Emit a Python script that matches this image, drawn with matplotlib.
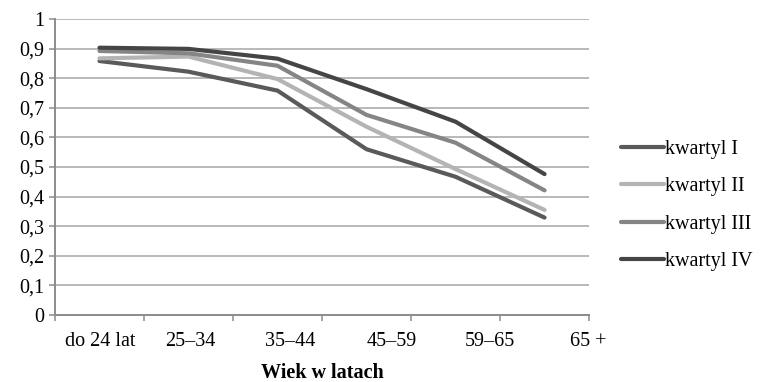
import matplotlib
matplotlib.use("Agg")
import matplotlib.pyplot as plt
import numpy as np

plt.rcParams["font.family"] = ["Liberation Serif", "DejaVu Serif"]

FONT_SIZE = 14.5

CATEGORIES = ["do 24 lat", "25–34", "35–44", "45–59", "59–65", "65 +"]
SERIES_NAMES = ["kwartyl I", "kwartyl II", "kwartyl III", "kwartyl IV"]
KWARTYL_I = [0.858, 0.822, 0.758, 0.560, 0.467, 0.329]
KWARTYL_II = [0.867, 0.873, 0.797, 0.636, 0.493, 0.355]
KWARTYL_III = [0.892, 0.884, 0.842, 0.676, 0.582, 0.421]
KWARTYL_IV = [0.903, 0.899, 0.866, 0.763, 0.653, 0.476]
Y_TICKS = [0, 0.1, 0.2, 0.3, 0.4, 0.5, 0.6, 0.7, 0.8, 0.9, 1]
Y_TICK_LABELS = ["0", "0,1", "0,2", "0,3", "0,4", "0,5", "0,6", "0,7", "0,8", "0,9", "1"]

# label positions as they sit in the original (not quite centred in the bins)
LABEL_POS = [0.51, 1.52, 2.64, 3.78, 4.89, 5.99]
COLORS = ["#5a5a5a", "#b4b4b4", "#858585", "#454545"]


def main() -> None:
    fig = plt.figure(figsize=(7.67, 3.82), dpi=100)
    ax = fig.add_axes([0.0717, 0.1754, 0.768 - 0.0717, 0.9503 - 0.1754])

    x = np.arange(len(CATEGORIES)) + 0.5
    series = [KWARTYL_I, KWARTYL_II, KWARTYL_III, KWARTYL_IV]
    for name, vals, col in zip(SERIES_NAMES, series, COLORS):
        ax.plot(x, vals, color=col, lw=3.0, solid_capstyle="round",
                solid_joinstyle="round", label=name, zorder=3)

    ax.set_xlim(0, len(CATEGORIES))
    ax.set_ylim(0, 1)
    ax.set_yticks(Y_TICKS)
    ax.set_yticklabels(Y_TICK_LABELS, fontsize=FONT_SIZE)
    ax.yaxis.grid(True, color="#a6a6a6", lw=1.1)
    ax.set_axisbelow(True)

    ax.set_xticks(LABEL_POS)
    ax.set_xticklabels(CATEGORIES, fontsize=FONT_SIZE)
    ax.set_xticks(np.arange(len(CATEGORIES) + 1), minor=True)
    ax.tick_params(axis="x", which="major", length=0, pad=12)
    ax.tick_params(axis="x", which="minor", length=4.5, width=1.1, color="#8c8c8c")
    ax.tick_params(axis="y", length=4.5, width=1.1, color="#8c8c8c", pad=3)

    for side in ("top", "right"):
        ax.spines[side].set_visible(False)
    for side in ("left", "bottom"):
        ax.spines[side].set_color("#8c8c8c")
        ax.spines[side].set_linewidth(1.4)

    ax.set_xlabel("Wiek w latach", fontsize=FONT_SIZE, fontweight="bold", labelpad=9)

    fig.legend(loc="center left", bbox_to_anchor=(0.809, 0.462), frameon=False,
               fontsize=FONT_SIZE, handlelength=2.15, handletextpad=0.05,
               labelspacing=0.9, borderpad=0, borderaxespad=0)

    fig.savefig("out.png", dpi=100)
    plt.close(fig)


if __name__ == "__main__":
    main()
